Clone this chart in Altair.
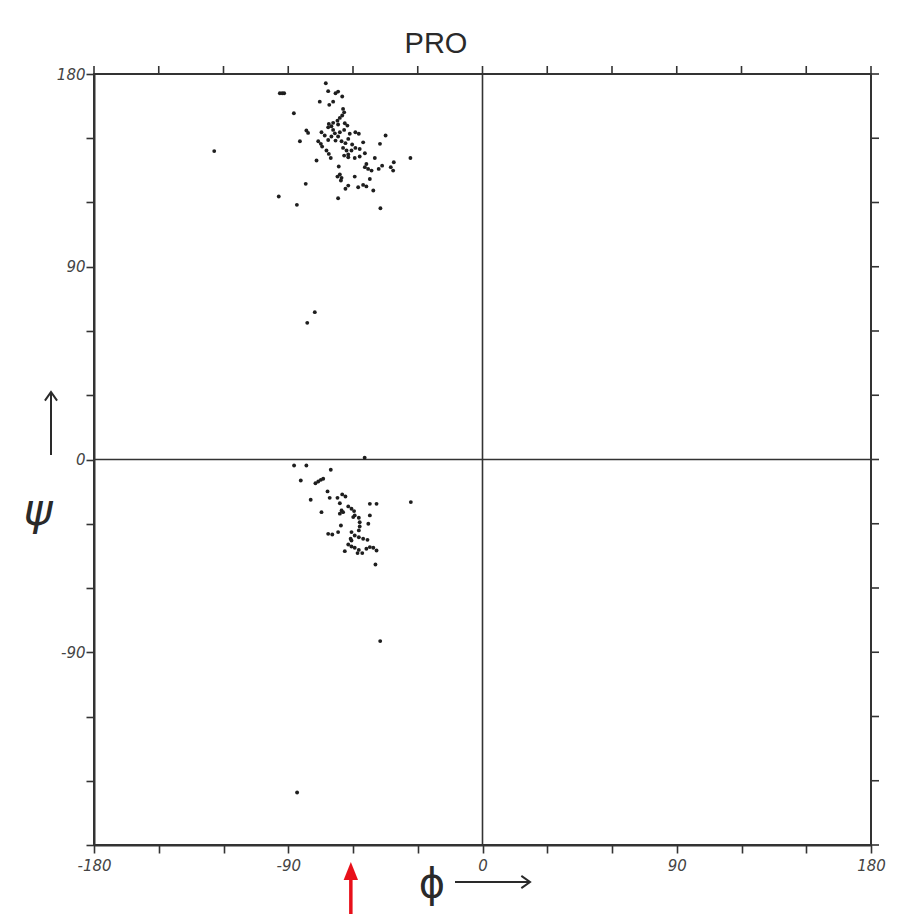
import altair as alt
import pandas as pd

# Ramachandran plot for proline (phi, psi in degrees)
phi = [
    # beta / PPII region
    -72.6, -93.9, -92.8, -91.9, -71.5, -68.1, -66.9, -65.0, -75.4, -71.0,
    -69.2, -87.4, -64.6, -64.1, -65.0, -66.1, -67.2, -69.2, -71.2, -70.0,
    -66.9, -63.8, -62.6, -81.6, -80.8, -74.6, -84.6, -76.1, -74.9, -74.3,
    -72.3, -71.2, -70.3, -70.0, -68.4, -66.9, -68.1, -65.3, -63.5, -62.2,
    -60.4, -58.9, -57.3, -56.9, -55.3, -54.5, -56.9, -59.2, -62.2, -64.1,
    -60.7, -58.9, -64.6, -76.9, -66.6, -66.1, -65.3, -67.2, -65.6, -62.2,
    -63.5, -59.2, -57.6, -55.3, -53.8, -50.6, -52.2, -53.0, -54.5, -53.8,
    -51.4, -49.9, -48.1, -46.5, -44.9, -47.5, -42.5, -41.4, -41.1, -33.4,
    -81.9, -94.4, -86.0, -66.9, -47.3, -124.3, -66.1, -64.1, -69.2, -61.5,
    -71.5, -73.1, -71.5, -63.0, -62.2,
    # isolated points
    -77.7, -81.2, -47.4, -85.9,
    # alpha region
    -54.6, -87.3, -81.6, -70.3, -84.2, -77.4, -76.1, -74.9, -73.8, -79.6,
    -71.8, -70.8, -67.2, -65.0, -63.5, -66.1, -74.6, -62.2, -60.7, -59.5,
    -59.2, -57.3, -56.9, -56.9, -57.3, -65.3, -66.1, -64.6, -59.9, -52.2,
    -49.1, -52.2, -52.9, -33.2, -65.6, -71.5, -69.6, -66.9, -60.7, -59.2,
    -57.3, -55.3, -53.3, -61.1, -62.2, -60.7, -59.2, -57.3, -55.7, -63.8,
    -53.8, -52.2, -50.6, -49.1, -57.9, -49.6, -60.7,
]
psi = [
    175.7, 171.0, 171.0, 171.0, 172.0, 171.0, 171.8, 169.5, 167.1, 165.6,
    167.1, 161.7, 163.7, 162.1, 160.6, 159.5, 158.2, 157.2, 156.7, 155.6,
    156.4, 157.0, 155.9, 153.6, 152.5, 152.8, 148.6, 148.6, 147.4, 146.1,
    144.3, 142.7, 140.8, 150.8, 152.3, 150.8, 148.9, 148.6, 147.7, 149.7,
    147.1, 152.8, 152.1, 145.0, 148.1, 143.0, 141.5, 140.8, 141.1, 141.9,
    144.3, 145.5, 145.5, 139.6, 136.8, 133.1, 131.5, 132.1, 130.3, 127.9,
    126.4, 132.1, 127.1, 128.2, 127.5, 125.6, 131.0, 135.7, 136.5, 138.0,
    134.9, 140.8, 135.7, 137.2, 151.3, 147.4, 136.5, 134.9, 138.8, 140.8,
    128.7, 122.8, 118.9, 122.0, 117.3, 144.0, 152.8, 153.9, 153.9, 152.1,
    149.2, 151.3, 155.1, 144.3, 142.4,
    68.8, 63.8, -84.8, -155.5,
    0.8, -2.8, -2.8, -4.8, -9.8, -11.1, -10.3, -9.5, -9.0, -18.8,
    -14.9, -17.9, -17.9, -16.3, -17.3, -20.4, -24.6, -21.9, -23.0, -24.1,
    -26.1, -27.2, -29.3, -31.3, -33.1, -23.8, -25.3, -24.6, -26.9, -20.7,
    -20.7, -26.1, -30.0, -19.9, -30.8, -34.7, -35.0, -33.9, -33.9, -35.5,
    -36.3, -37.0, -37.5, -37.0, -39.7, -40.6, -41.2, -42.2, -43.7, -42.8,
    -41.7, -40.9, -41.2, -42.5, -43.7, -49.0, -37.8,
]

tick_values = [-180, -150, -120, -90, -60, -30, 0, 30, 60, 90, 120, 150, 180]
title_text = "PRO"
marker_phi = [-61]  # red arrow under the phi axis

W, H = 777, 771
INK = "#333333"

df = pd.DataFrame({"phi": phi, "psi": psi})
ticks_df = pd.DataFrame({"phi": tick_values, "psi": tick_values})

xscale = alt.Scale(domain=[-180, 180], nice=False, zero=False)
yscale = alt.Scale(domain=[-180, 180], nice=False, zero=False)

xaxis = alt.Axis(
    values=tick_values, orient="bottom", title=None, grid=False,
    tickSize=8, tickWidth=1.6, tickColor=INK, domainColor=INK, domainWidth=2,
    labelExpr="datum.value % 90 == 0 ? '' + datum.value : ''",
    labelFont="DejaVu Sans", labelFontStyle="italic", labelFontSize=15,
    labelColor="#444444", labelPadding=5, labelFlush=False, labelOverlap=False,
)
yaxis = alt.Axis(
    values=tick_values, orient="left", title=None, grid=False,
    tickSize=8, tickWidth=1.6, tickColor=INK, domainColor=INK, domainWidth=2,
    labelExpr="(datum.value % 90 == 0 && datum.value > -180) ? '' + datum.value : ''",
    labelFont="DejaVu Sans", labelFontStyle="italic", labelFontSize=15,
    labelColor="#444444", labelPadding=1, labelFlush=False, labelOverlap=False,
)

X = alt.X("phi:Q", scale=xscale, axis=xaxis)
Y = alt.Y("psi:Q", scale=yscale, axis=yaxis)

points = alt.Chart(df).mark_circle(size=15, color="#1e1e1e", opacity=1).encode(x=X, y=Y)

zero_v = alt.Chart(pd.DataFrame({"phi": [0]})).mark_rule(color=INK, strokeWidth=1.6).encode(x=X)
zero_h = alt.Chart(pd.DataFrame({"psi": [0]})).mark_rule(color=INK, strokeWidth=1.6).encode(y=Y)

top_ticks = alt.Chart(ticks_df).mark_rule(color=INK, strokeWidth=1.6).encode(
    x=X, y=alt.value(0), y2=alt.value(-8))
right_ticks = alt.Chart(ticks_df).mark_rule(color=INK, strokeWidth=1.6).encode(
    y=Y, x=alt.value(W), x2=alt.value(W + 8))

title = alt.Chart(pd.DataFrame({"s": [title_text]})).mark_text(
    font="Liberation Sans", fontSize=29, color="#2a2a2a", align="center", baseline="alphabetic"
).encode(text="s:N", x=alt.value(342), y=alt.value(-21))

# axis symbols with arrows
phi_txt = alt.Chart(pd.DataFrame({"s": ["ϕ"]})).mark_text(
    font="DejaVu Sans", fontSize=40, color="#2a2a2a", align="center", baseline="middle"
).encode(text="s:N", x=alt.value(338), y=alt.value(811))
phi_line = alt.Chart(pd.DataFrame({"a": [1]})).mark_rule(color="#2a2a2a", strokeWidth=2).encode(
    x=alt.value(361), x2=alt.value(435), y=alt.value(808))
phi_head = alt.Chart(pd.DataFrame({"a": [1]})).mark_point(
    shape="M-1,-0.7L0,0L-1,0.7", filled=False, color="#2a2a2a", strokeWidth=2, size=300, opacity=1
).encode(x=alt.value(436), y=alt.value(808))

psi_txt = alt.Chart(pd.DataFrame({"s": ["ψ"]})).mark_text(
    font="DejaVu Sans", fontSize=44, fontStyle="italic", color="#2a2a2a", align="center", baseline="middle"
).encode(text="s:N", x=alt.value(-56), y=alt.value(438))
psi_line = alt.Chart(pd.DataFrame({"a": [1]})).mark_rule(color="#2a2a2a", strokeWidth=2).encode(
    x=alt.value(-43), y=alt.value(381), y2=alt.value(318))
psi_head = alt.Chart(pd.DataFrame({"a": [1]})).mark_point(
    shape="M-0.7,1L0,0L0.7,1", filled=False, color="#2a2a2a", strokeWidth=2, size=300, opacity=1
).encode(x=alt.value(-43), y=alt.value(318))

# red marker arrow
mk = pd.DataFrame({"phi": marker_phi})
red_shaft = alt.Chart(mk).mark_rule(color="#e8101a", strokeWidth=3.5).encode(
    x=X, y=alt.value(800), y2=alt.value(840))
red_head = alt.Chart(mk).mark_point(
    shape="M0,-1L0.8,1L-0.8,1Z", filled=True, color="#e8101a", size=324, opacity=1
).encode(x=X, y=alt.value(797))

chart = alt.layer(
    zero_v, zero_h, top_ticks, right_ticks, points, title,
    phi_txt, phi_line, phi_head, psi_txt, psi_line, psi_head, red_shaft, red_head,
).properties(
    width=W, height=H,
    autosize=alt.AutoSizeParams(type="none"),
    padding={"left": 86, "top": 66, "right": 18, "bottom": 69},
    background="white",
).configure_view(stroke=INK, strokeWidth=2)

chart.save("out.html", embed_options={"renderer": "svg", "actions": False})
